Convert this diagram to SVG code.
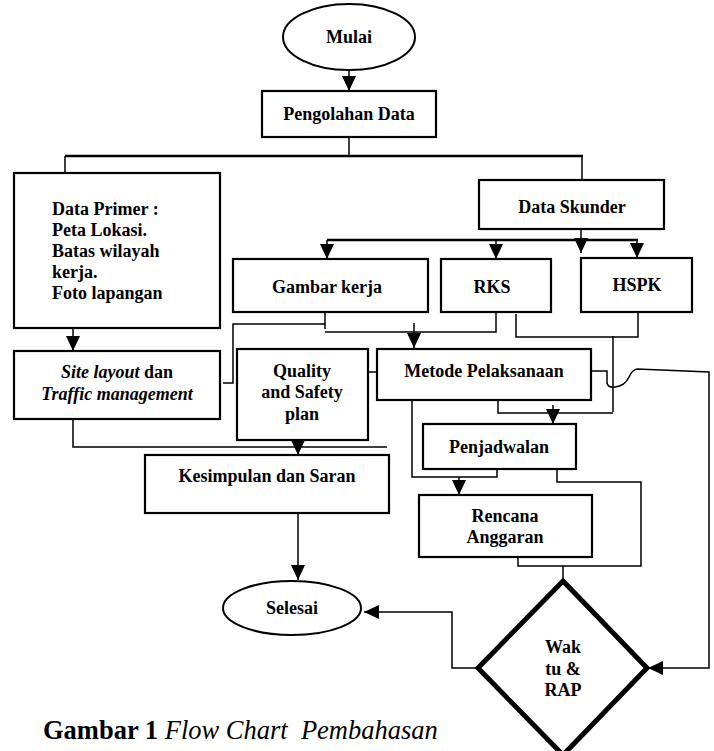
<svg xmlns="http://www.w3.org/2000/svg" width="714" height="751" viewBox="0 0 714 751">
<style>
.bx{fill:#fff;stroke:#000;stroke-width:2.2}
.t{font-family:"Liberation Serif","Times New Roman",serif;font-weight:bold;font-size:18px;fill:#000;text-anchor:middle}
.l{text-anchor:start}
.c{fill:none;stroke:#000;stroke-width:1.5}
.k{fill:none;stroke:#000;stroke-width:2.5}
</style>
<defs>
<marker id="ah" markerUnits="userSpaceOnUse" markerWidth="15" markerHeight="14" refX="15" refY="7" orient="auto">
<path d="M0,0 L15,7 L0,14 z" fill="#000"/>
</marker>
</defs>
<rect width="714" height="751" fill="#fff"/>

<g id="connectors">
<line class="c" x1="349" y1="66" x2="349" y2="91" marker-end="url(#ah)"/>
<line class="c" x1="349" y1="137" x2="349" y2="156"/>
<line class="k" x1="65" y1="156" x2="583" y2="156"/>
<line class="c" x1="65" y1="156" x2="65" y2="173"/>
<line class="c" x1="582" y1="156" x2="582" y2="180"/>
<line class="c" x1="73" y1="328" x2="73" y2="351" marker-end="url(#ah)"/>
<polyline class="c" points="73,419 73,447 387,447"/>
<line class="c" x1="581" y1="229" x2="581" y2="253" marker-end="url(#ah)"/>
<line class="k" x1="327" y1="240" x2="638" y2="240"/>
<line class="c" x1="327" y1="240" x2="327" y2="259" marker-end="url(#ah)"/>
<line class="c" x1="496" y1="240" x2="496" y2="259" marker-end="url(#ah)"/>
<line class="c" x1="637" y1="240" x2="637" y2="258" marker-end="url(#ah)"/>
<line class="c" x1="325" y1="312" x2="325" y2="329"/>
<polyline class="c" points="325,332 496,332 496,312"/>
<polyline class="c" points="325,324 233,324 233,383 223,383"/>
<line class="c" x1="414" y1="323" x2="414" y2="348" marker-end="url(#ah)"/>
<polyline class="c" points="516,314 516,337 638,337 638,312"/>
<line class="c" x1="613" y1="336" x2="613" y2="412"/>
<polyline class="c" points="498,400 498,413 613,413"/>
<line class="c" x1="553" y1="405" x2="553" y2="424" marker-end="url(#ah)"/>
<line class="c" x1="368" y1="372" x2="377" y2="372"/>
<path class="c" d="M591,371 H607 V383 Q608,388 615,387 Q625,386 629,377 Q632,370 637,369 L709,372 V668 H648" marker-end="url(#ah)"/>
<polyline class="c" points="412,400 412,477 497,477 497,469"/>
<line class="c" x1="459" y1="477" x2="459" y2="495" marker-end="url(#ah)"/>
<polyline class="c" points="557,469 557,482 641,482 641,566 518,566 518,557"/>
<line class="c" x1="563" y1="566" x2="563" y2="580"/>
<line class="c" x1="298" y1="433" x2="298" y2="455" marker-end="url(#ah)"/>
<line class="c" x1="298" y1="513" x2="298" y2="580" marker-end="url(#ah)"/>
<polyline class="c" points="478,668 452,668 452,612 364,612" marker-end="url(#ah)"/>
</g>

<g id="mulai">
<ellipse cx="349" cy="37" rx="66" ry="33" fill="#fff" stroke="#000" stroke-width="2"/>
<text class="t" x="349" y="43">Mulai</text>
</g>
<g id="pengolahan">
<rect class="bx" x="262" y="91" width="174" height="46"/>
<text class="t" x="349" y="120">Pengolahan Data</text>
</g>
<g id="data-primer">
<rect class="bx" x="14" y="173" width="206" height="155"/>
<text class="t l" x="52" y="215">Data Primer :</text>
<text class="t l" x="52" y="236">Peta Lokasi.</text>
<text class="t l" x="52" y="257">Batas wilayah</text>
<text class="t l" x="52" y="278">kerja.</text>
<text class="t l" x="52" y="299">Foto lapangan</text>
</g>
<g id="data-skunder">
<rect class="bx" x="479" y="180" width="185" height="49"/>
<text class="t" x="572" y="213">Data Skunder</text>
</g>
<g id="gambar-kerja">
<rect class="bx" x="233" y="259" width="195" height="53"/>
<text class="t" x="327" y="293">Gambar kerja</text>
</g>
<g id="rks">
<rect class="bx" x="441" y="259" width="110" height="53"/>
<text class="t" x="492" y="293">RKS</text>
</g>
<g id="hspk">
<rect class="bx" x="581" y="258" width="111" height="54"/>
<text class="t" x="637" y="291">HSPK</text>
</g>
<g id="site-layout">
<rect class="bx" x="14" y="351" width="206" height="68"/>
<text class="t" x="117" y="378"><tspan font-style="italic">Site layout</tspan> dan</text>
<text class="t" x="117" y="400" font-style="italic">Traffic management</text>
</g>
<g id="quality">
<rect class="bx" x="237" y="349" width="131" height="91"/>
<text class="t" x="302" y="377">Quality</text>
<text class="t" x="302" y="398">and Safety</text>
<text class="t" x="302" y="420">plan</text>
</g>
<g id="metode">
<rect class="bx" x="377" y="349" width="214" height="51"/>
<text class="t" x="484" y="377">Metode Pelaksanaan</text>
</g>
<g id="penjadwalan">
<rect class="bx" x="423" y="424" width="153" height="45"/>
<text class="t" x="499" y="453">Penjadwalan</text>
</g>
<g id="kesimpulan">
<rect class="bx" x="145" y="455" width="244" height="58"/>
<text class="t" x="267" y="482">Kesimpulan dan Saran</text>
</g>
<g id="rencana">
<rect class="bx" x="419" y="495" width="173" height="62"/>
<text class="t" x="505" y="522">Rencana</text>
<text class="t" x="505" y="543">Anggaran</text>
</g>
<g id="selesai">
<ellipse cx="292" cy="608" rx="69" ry="27" fill="#fff" stroke="#000" stroke-width="2"/>
<text class="t" x="292" y="614">Selesai</text>
</g>
<g id="waktu-rap">
<polygon points="563,581 647,668 563,755 478,668" fill="#fff" stroke="#000" stroke-width="5"/>
<text class="t" x="563" y="653">Wak</text>
<text class="t" x="563" y="675">tu &amp;</text>
<text class="t" x="563" y="696">RAP</text>
</g>
<g id="caption">
<text x="43" y="739" font-family="Liberation Serif, Times New Roman, serif" font-size="26.5" fill="#000" style="white-space:pre"><tspan font-weight="bold">Gambar 1</tspan> <tspan font-style="italic">Flow Chart  Pembahasan</tspan></text>
</g>
</svg>
